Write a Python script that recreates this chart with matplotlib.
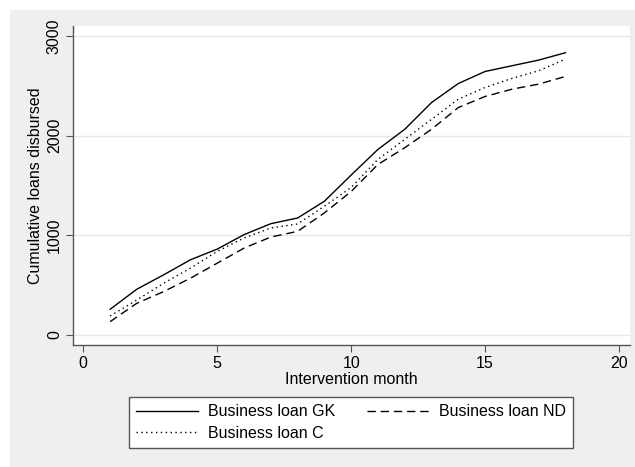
import matplotlib
matplotlib.use('Agg')
import matplotlib.pyplot as plt
from matplotlib.patches import Rectangle

plt.rcParams['font.family'] = ['Liberation Sans', 'DejaVu Sans']

months = list(range(1, 19))
loan_gk = [258, 460, 604, 755, 862, 1007, 1117, 1174, 1342, 1605,
           1862, 2064, 2332, 2523, 2644, 2701, 2758, 2832]
loan_nd = [134, 319, 436, 570, 721, 872, 983, 1040, 1225, 1440,
           1711, 1879, 2064, 2282, 2393, 2466, 2517, 2594]
loan_c = [191, 352, 520, 671, 839, 973, 1074, 1114, 1292, 1480,
          1762, 1963, 2164, 2366, 2483, 2574, 2651, 2768]

x_ticks = [0, 5, 10, 15, 20]
y_ticks = [0, 1000, 2000, 3000]

bg = '#efefef'
axis_col = '#555555'
fs = 11.5

fig = plt.figure(figsize=(6.35, 4.67), dpi=100, facecolor='white')
# grey graph region, offset from the top-left corner
fig.patches.append(Rectangle((10 / 635, 0), 1, (467 - 10) / 467,
                             transform=fig.transFigure, facecolor=bg,
                             edgecolor='none', zorder=-10))

ax = fig.add_axes([73 / 635, 1 - 345 / 467, (630 - 73) / 635, (345 - 26) / 467])
ax.set_facecolor('white')

l_gk, = ax.plot(months, loan_gk, color='black', lw=1.0, ls='-')
l_nd, = ax.plot(months, loan_nd, color='black', lw=1.0, ls=(0, (6, 3.5)))
l_c, = ax.plot(months, loan_c, color='black', lw=1.0, ls=(0, (1, 2.5)))

ax.set_xlim(-0.385, 20.41)
ax.set_ylim(-100, 3100)
ax.set_xticks(x_ticks)
ax.set_yticks(y_ticks)
ax.set_yticklabels([str(v) for v in y_ticks], rotation=90, va='center')
ax.tick_params(axis='both', direction='out', length=5, width=0.8,
               color=axis_col, labelsize=fs, pad=3)
ax.grid(axis='y', color='#e8e8e8', lw=1.0)
ax.set_axisbelow(True)

for side in ['top', 'right']:
    ax.spines[side].set_visible(False)
for side in ['left', 'bottom']:
    ax.spines[side].set_color(axis_col)
    ax.spines[side].set_linewidth(1.0)

ax.set_xlabel('Intervention month', fontsize=fs, labelpad=1)
ax.set_ylabel('Cumulative loans disbursed', fontsize=fs, labelpad=3)

leg = fig.legend([l_gk, l_c, l_nd],
                 ['Business loan GK', 'Business loan C', 'Business loan ND'],
                 ncol=2, loc='upper left', mode='expand', borderaxespad=0,
                 bbox_to_anchor=(129 / 635, 1 - 450 / 467, 444 / 635, 53 / 467),
                 fontsize=fs, handlelength=3.9, handletextpad=0.6,
                 labelspacing=0.42, borderpad=0.45, fancybox=False,
                 edgecolor=axis_col, facecolor='white', framealpha=1)
leg.get_frame().set_linewidth(1.0)

fig.savefig('out.png', dpi=100, facecolor='white')
